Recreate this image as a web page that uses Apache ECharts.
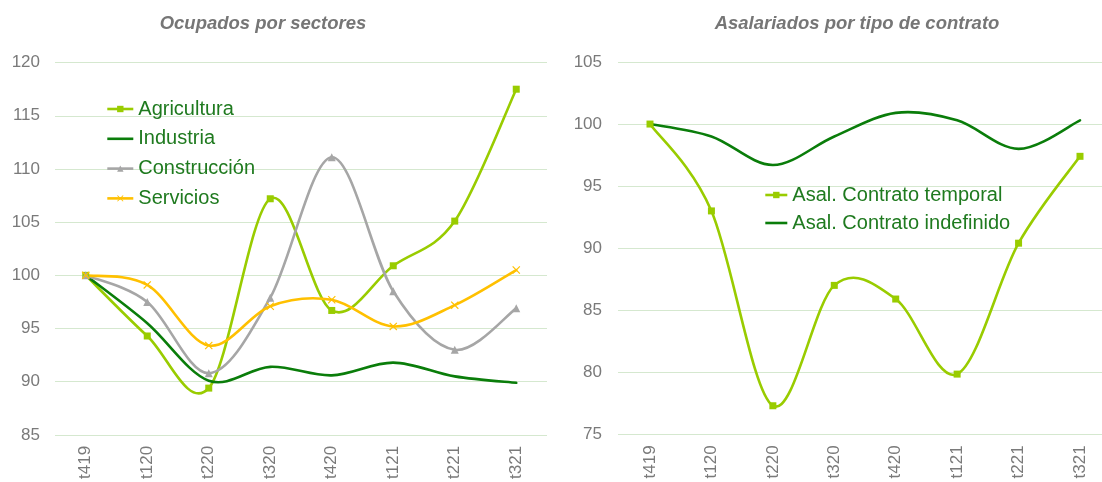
<!DOCTYPE html>
<html>
<head>
<meta charset="utf-8">
<script src="https://cdn.jsdelivr.net/npm/echarts@6/dist/echarts.min.js"></script>
<style>
html,body{margin:0;padding:0;background:#fff;}
#c{width:1102px;height:482px;}
</style>
</head>
<body>
<div id="c"></div>
<script>
var categories = ['t419','t120','t220','t320','t420','t121','t221','t321'];
var agricultura = [100, 94.3, 89.4, 107.2, 96.7, 100.9, 105.1, 117.5];
var industria = [100, 95.5, 90.1, 91.4, 90.6, 91.8, 90.5, 89.9];
var construccion = [100, 97.5, 90.8, 97.9, 111.1, 98.5, 93.0, 96.9];
var servicios = [100, 99.1, 93.4, 97.1, 97.7, 95.2, 97.2, 100.5];
var temporal = [100, 93.0, 77.3, 87.0, 85.9, 79.85, 90.4, 97.4];
var indefinido = [100, 99.0, 96.7, 99.0, 100.9, 100.3, 98.0, 100.3];
var leftTicks = {min: 85, max: 120, interval: 5};
var rightTicks = {min: 75, max: 105, interval: 5};

var C_AGR = '#99CC00', C_IND = '#0A7D0A', C_CON = '#A6A6A6', C_SER = '#FFC000';
var LEG_TXT = '#1F7A1F';
var AX_TXT = '#7a7a7a';
var FONT = '"Liberation Sans", Arial, sans-serif';
var xSym = 'path://M0,1L1,0L5,4L9,0L10,1L6,5L10,9L9,10L5,6L1,10L0,9L4,5Z';
var LW = 2.6;

function pairs(arr){ return arr.map(function(v,i){ return [i, v]; }); }

// Smooth curve (Catmull-Rom style bezier, as spreadsheet "smoothed line") through data points via axis scales
function curve(arr, color, ai, z){
  return {
    type:'custom', xAxisIndex:ai, yAxisIndex:ai, data:pairs(arr), encode:{x:0, y:1},
    silent:true, animation:false, z:z, clip:false,
    renderItem:function(params, api){
      if (params.dataIndex !== 0) return null;
      var p = arr.map(function(v,i){ return api.coord([i, v]); });
      var n = p.length;
      var d = 'M' + p[0][0] + ',' + p[0][1];
      for (var i = 0; i < n - 1; i++) {
        var p0 = p[Math.max(i-1,0)], p1 = p[i], p2 = p[i+1], p3 = p[Math.min(i+2,n-1)];
        var c1x = p1[0] + (p2[0]-p0[0])/6, c1y = p1[1] + (p2[1]-p0[1])/6;
        var c2x = p2[0] - (p3[0]-p1[0])/6, c2y = p2[1] - (p3[1]-p1[1])/6;
        d += 'C' + c1x + ',' + c1y + ',' + c2x + ',' + c2y + ',' + p2[0] + ',' + p2[1];
      }
      return {type:'path', shape:{pathData:d}, style:{fill:null, stroke:color, lineWidth:LW, lineCap:'round', lineJoin:'round'}};
    }
  };
}
// markers + legend entry (line itself drawn by curve())
function marks(name, arr, color, ai, symbol, size, z){
  return {
    name:name, type:'line', xAxisIndex:ai, yAxisIndex:ai, data:arr,
    symbol: symbol || 'none', symbolSize: size || 0, showSymbol: !!symbol,
    lineStyle:{color:color, width:LW, opacity:0}, itemStyle:{color:color},
    emphasis:{disabled:true}, animation:false, z:z
  };
}

var xLabel = {rotate:90, margin:11, color:AX_TXT, fontSize:17, fontFamily:FONT};
var yLabel = {margin:15, color:AX_TXT, fontSize:17, fontFamily:FONT};
var split = {lineStyle:{color:'#D5E8CF', width:1}};
var titleStyle = {fontSize:18.5, fontWeight:'bold', fontStyle:'italic', color:'#767676', fontFamily:FONT};
var legText = {fontSize:20, color:LEG_TXT, fontFamily:FONT};

var chart = echarts.init(document.getElementById('c'), null, {renderer:'canvas'});
chart.setOption({
  animation:false,
  title:[
    {text:'Ocupados por sectores', left:258, top:9, textAlign:'center', textStyle:titleStyle},
    {text:'Asalariados por tipo de contrato', left:852, top:9, textAlign:'center', textStyle:titleStyle}
  ],
  legend:[
    {orient:'vertical', left:106, top:99, padding:0, itemWidth:26, itemHeight:8, itemGap:9.8,
     lineStyle:{opacity:1, width:LW},
     data:['Agricultura', {name:'Industria', itemStyle:{opacity:0}}, 'Construcción','Servicios'],
     textStyle:legText},
    {orient:'vertical', left:764, top:185, padding:0, itemWidth:22, itemHeight:8, itemGap:8,
     lineStyle:{opacity:1, width:LW},
     data:['Asal. Contrato temporal', {name:'Asal. Contrato indefinido', itemStyle:{opacity:0}}],
     textStyle:legText}
  ],
  grid:[
    {left:55, top:62.6, width:492, height:373},
    {left:618, top:62, right:0, height:372.3},
    {left:650, top:62, right:22, height:372.3}
  ],
  xAxis:[
    {type:'category', gridIndex:0, data:categories, boundaryGap:true,
     axisLine:{show:false}, axisTick:{show:false}, axisLabel:xLabel},
    {type:'category', gridIndex:1, data:categories, show:false},
    {type:'category', gridIndex:2, data:categories, boundaryGap:false,
     axisLine:{show:false}, axisTick:{show:false}, axisLabel:xLabel}
  ],
  yAxis:[
    {type:'value', gridIndex:0, min:leftTicks.min, max:leftTicks.max, interval:leftTicks.interval,
     axisLine:{show:false}, axisTick:{show:false}, axisLabel:yLabel, splitLine:split},
    {type:'value', gridIndex:1, min:rightTicks.min, max:rightTicks.max, interval:rightTicks.interval,
     axisLine:{show:false}, axisTick:{show:false}, axisLabel:{margin:16, color:AX_TXT, fontSize:17, fontFamily:FONT}, splitLine:split},
    {type:'value', gridIndex:2, min:rightTicks.min, max:rightTicks.max, interval:rightTicks.interval, show:false}
  ],
  series:[
    curve(agricultura, C_AGR, 0, 3),
    curve(industria, C_IND, 0, 4),
    curve(construccion, C_CON, 0, 5),
    curve(servicios, C_SER, 0, 6),
    marks('Agricultura', agricultura, C_AGR, 0, 'rect', 7, 7),
    marks('Industria', industria, C_IND, 0, null, 0, 7),
    marks('Construcción', construccion, C_CON, 0, 'triangle', 8, 7),
    marks('Servicios', servicios, C_SER, 0, xSym, 8, 7),
    curve(temporal, C_AGR, 2, 3),
    curve(indefinido, C_IND, 2, 4),
    marks('Asal. Contrato temporal', temporal, C_AGR, 2, 'rect', 7, 7),
    marks('Asal. Contrato indefinido', indefinido, C_IND, 2, null, 0, 7)
  ]
});
</script>
</body>
</html>
